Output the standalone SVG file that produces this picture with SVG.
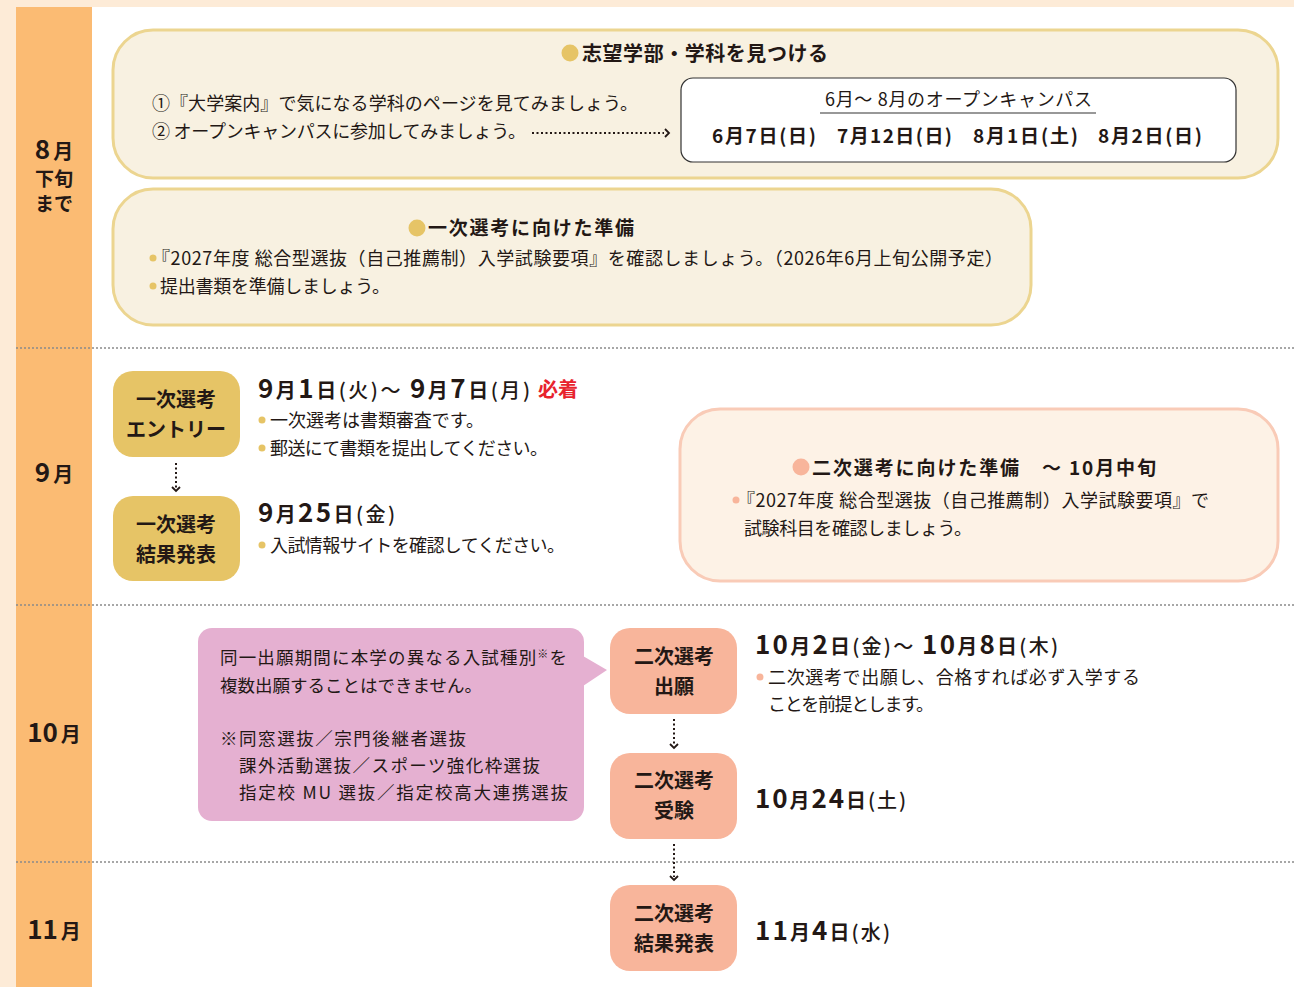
<svg xmlns="http://www.w3.org/2000/svg" width="1294" height="987" viewBox="0 0 1294 987">
<defs>
<style>
text{font-family:"Noto Sans CJK JP","Noto Sans",sans-serif;fill:#231815;}
.t18{font-size:18px;}
.t17{font-size:17.5px;}
.h{font-size:19px;font-weight:700;}
.node{font-size:20px;font-weight:700;text-anchor:middle;}
.big{font-size:26px;font-weight:700;}
.mid{font-size:20px;font-weight:700;}
.par{font-size:20px;font-weight:500;}
.sep{stroke:#8a8a8a;stroke-width:1.3;stroke-dasharray:2 2;fill:none;}
.dot{stroke:#231815;stroke-width:2;stroke-dasharray:2 2.5;fill:none;}
.chev{stroke:#231815;stroke-width:1.8;fill:none;}
.yel{fill:#f8f1e1;stroke:#ecd590;stroke-width:3;}
.g1{fill:#e6c466;}
.g2{fill:#f8b59b;}
</style>
</defs>
<rect x="0" y="0" width="1294" height="987" fill="#fdebd7"/>
<rect x="16" y="7" width="76" height="980" fill="#fbbb73"/>
<rect x="92" y="7" width="1202" height="980" fill="#ffffff"/>
<g id="separators">
<line class="sep" x1="16" y1="348" x2="1294" y2="348"/>
<line class="sep" x1="16" y1="605" x2="1294" y2="605"/>
<line class="sep" x1="16" y1="862" x2="1294" y2="862"/>
</g>
<g id="months">
<text x="54" y="159" text-anchor="middle"><tspan class="big">8</tspan><tspan class="mid" dx="3">月</tspan></text>
<text x="54" y="186" text-anchor="middle" class="mid" style="font-size:19px">下旬</text>
<text x="54" y="211" text-anchor="middle" class="mid" style="font-size:19px">まで</text>
<text x="54" y="482" text-anchor="middle"><tspan class="big">9</tspan><tspan class="mid" dx="3">月</tspan></text>
<text x="54" y="742" text-anchor="middle"><tspan class="big">10</tspan><tspan class="mid" dx="3">月</tspan></text>
<text x="54" y="939" text-anchor="middle"><tspan class="big">11</tspan><tspan class="mid" dx="3">月</tspan></text>
</g>
<g id="box-find">
<rect class="yel" x="113" y="30" width="1165" height="148" rx="40"/>
<circle cx="570" cy="53" r="8.5" class="g1"/>
<text x="582" y="61" class="h" style="font-size:20px" textLength="246">志望学部・学科を見つける</text>
<text x="152" y="110" class="t18" textLength="486">①『大学案内』で気になる学科のページを見てみましょう。</text>
<text x="152" y="138" class="t18" textLength="374">② オープンキャンパスに参加してみましょう。</text>
</g>
<g id="box-oc">
<rect x="681" y="78" width="555" height="84" rx="12" fill="#ffffff" stroke="#333" stroke-width="1.2"/>
<text x="825" y="106" class="t18" textLength="267">6月～ 8月のオープンキャンパス</text>
<line x1="820" y1="113" x2="1096" y2="113" stroke="#333" stroke-width="1.2"/>
<text x="712" y="143" class="h" textLength="104">6月7日(日)</text>
<text x="837" y="143" class="h" textLength="115">7月12日(日)</text>
<text x="973" y="143" class="h" textLength="105">8月1日(土)</text>
<text x="1098" y="143" class="h" textLength="104">8月2日(日)</text>
</g>
<g id="box-prep1">
<rect class="yel" x="113" y="189" width="918" height="136" rx="40"/>
<circle cx="417" cy="228" r="8.5" class="g1"/>
<text x="428" y="235" class="h" textLength="206">一次選考に向けた準備</text>
<circle cx="153" cy="258" r="3.5" class="g1"/>
<text x="152" y="265" class="t18" textLength="851">『2027年度 総合型選抜（自己推薦制）入学試験要項』を確認しましょう。（2026年6月上旬公開予定）</text>
<circle cx="153" cy="286" r="3.5" class="g1"/>
<text x="160" y="293" class="t18" textLength="230">提出書類を準備しましょう。</text>
</g>
<g id="node-entry1">
<rect class="g1" x="113" y="371" width="127" height="86" rx="20"/>
<text x="176" y="407" class="node">一次選考</text>
<text x="176" y="437" class="node">エントリー</text>
</g>
<g id="node-result1">
<rect class="g1" x="113" y="496" width="127" height="85" rx="20"/>
<text x="176" y="532" class="node">一次選考</text>
<text x="176" y="562" class="node">結果発表</text>
</g>
<g id="text-sep">
<text x="258" y="398" textLength="272"><tspan class="big">9</tspan><tspan class="mid">月</tspan><tspan class="big">1</tspan><tspan class="mid">日</tspan><tspan class="par">(火)</tspan><tspan class="par">～ </tspan><tspan class="big">9</tspan><tspan class="mid">月</tspan><tspan class="big">7</tspan><tspan class="mid">日</tspan><tspan class="par">(月)</tspan></text>
<text x="538" y="397" class="mid" style="fill:#e8232d">必着</text>
<circle cx="262" cy="420" r="3.5" class="g1"/>
<text x="270" y="427" class="t18" textLength="214">一次選考は書類審査です。</text>
<circle cx="262" cy="448" r="3.5" class="g1"/>
<text x="270" y="455" class="t18" textLength="278">郵送にて書類を提出してください。</text>
<text x="258" y="522" textLength="137"><tspan class="big">9</tspan><tspan class="mid">月</tspan><tspan class="big">25</tspan><tspan class="mid">日</tspan><tspan class="par">(金)</tspan></text>
<circle cx="262" cy="545" r="3.5" class="g1"/>
<text x="270" y="552" class="t18" textLength="295">入試情報サイトを確認してください。</text>
</g>
<g id="box-prep2">
<rect x="680" y="409" width="598" height="172" rx="40" fill="#fdf2e6" stroke="#f9cbb7" stroke-width="3"/>
<circle cx="801" cy="467" r="8.5" class="g2"/>
<text x="812" y="475" class="h" textLength="344">二次選考に向けた準備　～ 10月中旬</text>
<circle cx="736" cy="500" r="3.5" class="g2"/>
<text x="737" y="507" class="t18" textLength="472">『2027年度 総合型選抜（自己推薦制）入学試験要項』で</text>
<text x="744" y="535" class="t18" textLength="228">試験科目を確認しましょう。</text>
</g>
<g id="callout">
<rect x="198" y="628" width="386" height="193" rx="14" fill="#e5b0d1"/>
<path d="M583,656 L607,670 L583,686 Z" fill="#e5b0d1"/>
<text x="220" y="664" class="t17" textLength="347">同一出願期間に本学の異なる入試種別<tspan style="font-size:11px" dy="-6">※</tspan><tspan dy="6">を</tspan></text>
<text x="220" y="692" class="t17" textLength="262">複数出願することはできません。</text>
<text x="220" y="745" class="t17" textLength="246">※同窓選抜／宗門後継者選抜</text>
<text x="239" y="772" class="t17" textLength="301">課外活動選抜／スポーツ強化枠選抜</text>
<text x="239" y="799" class="t17" textLength="329">指定校 MU 選抜／指定校高大連携選抜</text>
</g>
<g id="node-apply2">
<rect class="g2" x="610" y="628" width="127" height="86" rx="20"/>
<text x="674" y="664" class="node">二次選考</text>
<text x="674" y="694" class="node">出願</text>
</g>
<g id="node-exam2">
<rect class="g2" x="610" y="753" width="127" height="86" rx="20"/>
<text x="674" y="788" class="node">二次選考</text>
<text x="674" y="818" class="node">受験</text>
</g>
<g id="node-result2">
<rect class="g2" x="610" y="885" width="127" height="86" rx="20"/>
<text x="674" y="921" class="node">二次選考</text>
<text x="674" y="951" class="node">結果発表</text>
</g>
<g id="text-2nd">
<text x="755" y="654" textLength="303"><tspan class="big">10</tspan><tspan class="mid">月</tspan><tspan class="big">2</tspan><tspan class="mid">日</tspan><tspan class="par">(金)</tspan><tspan class="par">～ </tspan><tspan class="big">10</tspan><tspan class="mid">月</tspan><tspan class="big">8</tspan><tspan class="mid">日</tspan><tspan class="par">(木)</tspan></text>
<circle cx="760" cy="677" r="3.5" class="g2"/>
<text x="768" y="684" class="t18" textLength="372">二次選考で出願し、合格すれば必ず入学する</text>
<text x="768" y="711" class="t18" textLength="166">ことを前提とします。</text>
<text x="755" y="808" textLength="151"><tspan class="big">10</tspan><tspan class="mid">月</tspan><tspan class="big">24</tspan><tspan class="mid">日</tspan><tspan class="par">(土)</tspan></text>
<text x="755" y="940" textLength="135"><tspan class="big">11</tspan><tspan class="mid">月</tspan><tspan class="big">4</tspan><tspan class="mid">日</tspan><tspan class="par">(水)</tspan></text>
</g>
<g id="connectors">
<line class="dot" x1="532" y1="133" x2="664" y2="133"/>
<path class="chev" d="M665,129 L669,133 L665,137"/>
<line class="dot" x1="176" y1="463" x2="176" y2="488"/>
<path class="chev" d="M172,487 L176,491 L180,487"/>
<line class="dot" x1="674" y1="719" x2="674" y2="745"/>
<path class="chev" d="M670,744 L674,748 L678,744"/>
<line class="dot" x1="674" y1="844" x2="674" y2="877"/>
<path class="chev" d="M670,876 L674,880 L678,876"/>
</g>
</svg>
